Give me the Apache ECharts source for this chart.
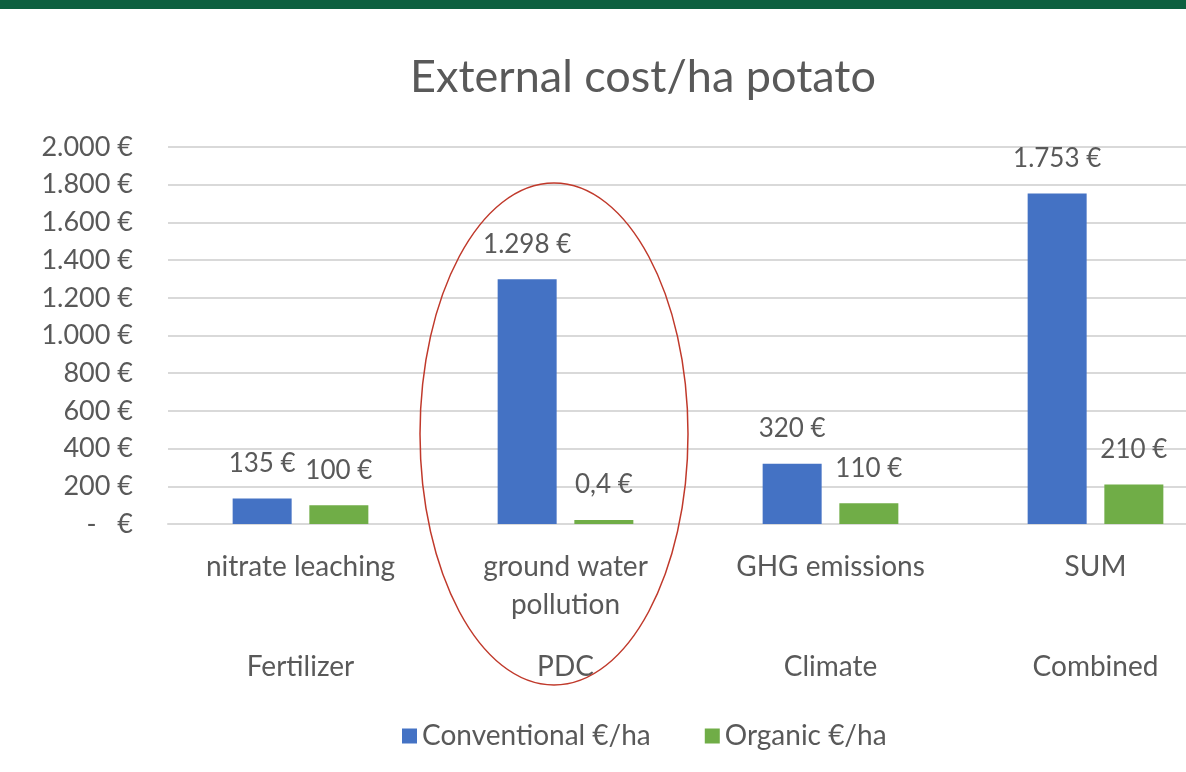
<!DOCTYPE html>
<html><head><meta charset="utf-8">
<script src="https://cdn.jsdelivr.net/npm/echarts@6/dist/echarts.min.js"></script>
<style>html,body{margin:0;padding:0;background:#fff;overflow:hidden;width:1186px;height:772px}#c{width:1228px;height:772px}</style>
</head><body><div id="c"></div>
<script>
const categories = ['nitrate leaching', 'ground water\npollution', 'GHG emissions', 'SUM'];
const groups = ['Fertilizer', 'PDC', 'Climate', 'Combined'];
const conventional = [135, 1298, 320, 1753];
const organic = [100, 0.4, 110, 210];
const seriesNames = ['Conventional €/ha', 'Organic €/ha'];
const yTicks = { min: 0, max: 2000, interval: 200 };

const FONT = 'Lato, "Open Sans", sans-serif';
const TXT = '#595959';

function euro(v) {
  if (v === 0) return '-   €';
  let s;
  if (Number.isInteger(v)) s = String(v).replace(/\B(?=(\d{3})+(?!\d))/g, '.');
  else s = String(v).replace('.', ',');
  return s + ' €';
}

const chart = echarts.init(document.getElementById('c'), null, { renderer: 'canvas' });
const lbl = { show: true, position: 'top', distance: 22, color: TXT, fontFamily: FONT, fontSize: 26,
  formatter: p => euro(p.value) };
chart.setOption({
  backgroundColor: '#ffffff',
  animation: false,
  title: { text: 'External cost/ha potato', left: 638, top: 50, textAlign: 'center',
    textStyle: { fontFamily: FONT, fontSize: 45, fontWeight: 'normal', color: TXT } },
  legend: { bottom: 17, left: 397, itemWidth: 15, itemHeight: 15, itemGap: 54, icon: 'rect',
    textStyle: { fontFamily: FONT, fontSize: 28, color: TXT }, data: seriesNames },
  grid: { left: 168, top: 147, bottom: 248, right: 0, containLabel: false },
  xAxis: [
    { type: 'category', data: categories, axisTick: { show: false },
      axisLine: { lineStyle: { color: '#d9d9d9', width: 2 } },
      axisLabel: { interval: 0, margin: 24, color: TXT, fontFamily: FONT, fontSize: 28, lineHeight: 38, verticalAlign: 'top' } },
    { type: 'category', data: groups, position: 'bottom', axisTick: { show: false }, axisLine: { show: false },
      axisLabel: { interval: 0, margin: 124, color: TXT, fontFamily: FONT, fontSize: 28, lineHeight: 38, verticalAlign: 'top' } }
  ],
  yAxis: { type: 'value', min: yTicks.min, max: yTicks.max, interval: yTicks.interval,
    axisLine: { show: false }, axisTick: { show: false },
    splitLine: { lineStyle: { color: '#d9d9d9', width: 2 } },
    axisLabel: { margin: 35, color: TXT, fontFamily: FONT, fontSize: 27, formatter: euro } },
  series: [
    { name: seriesNames[0], type: 'bar', data: conventional, barWidth: 59, barGap: '30%',
      itemStyle: { color: '#4472c4' }, label: lbl },
    { name: seriesNames[1], type: 'bar', data: organic, barWidth: 59, barMinHeight: 4,
      itemStyle: { color: '#70ad47' }, label: lbl }
  ],
  graphic: [
    { type: 'rect', left: 0, top: 0, shape: { width: 1228, height: 9 }, style: { fill: '#0e6040' } },
    { type: 'ellipse', shape: { cx: 554, cy: 434, rx: 134, ry: 251 },
      style: { fill: 'none', stroke: '#c0392b', lineWidth: 1.5 }, z: 10 }
  ]
});
</script></body></html>
